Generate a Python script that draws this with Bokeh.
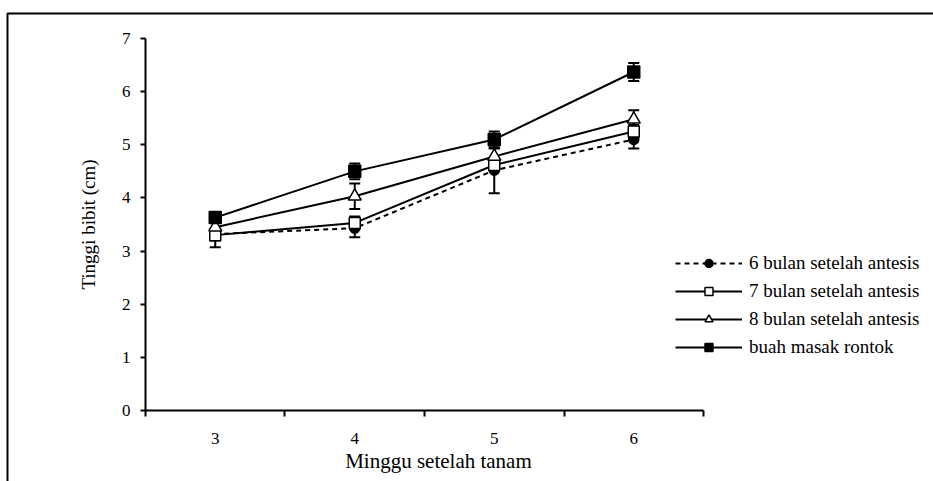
import math
from bokeh.plotting import figure
from bokeh.models import (Range1d, FixedTicker, ColumnDataSource, Whisker, TeeHead,
                          Legend, LegendItem, Label, PolyAnnotation)
from bokeh.embed import file_html
from bokeh.resources import INLINE

weeks = [3, 4, 5, 6]
week_labels = ["3", "4", "5", "6"]
y_ticks = [0, 1, 2, 3, 4, 5, 6, 7]
x_title = "Minggu setelah tanam"
y_title = "Tinggi bibit (cm)"
series_names = ["6 bulan setelah antesis", "7 bulan setelah antesis",
                "8 bulan setelah antesis", "buah masak rontok"]
h6 = [3.32, 3.43, 4.52, 5.10]
e6 = [0.25, 0.17, 0.43, 0.17]
h7 = [3.30, 3.53, 4.62, 5.25]
e7 = [0.10, 0.12, 0.12, 0.12]
h8 = [3.45, 4.03, 4.78, 5.48]
e8 = [0.10, 0.24, 0.15, 0.17]
hb = [3.63, 4.50, 5.10, 6.37]
eb = [0.08, 0.15, 0.15, 0.17]

FONT = "Liberation Serif"

# canvas 933x481; x: 139.5 px/unit with 2.5 at px 145; y: 53.143 px/unit with 0 at px 410
p = figure(width=933, height=481, x_range=Range1d(1.4606, 8.1487), y_range=Range1d(-1.336, 7.715),
           output_backend="svg", toolbar_location=None, min_border=0)
p.outline_line_color = None
p.xgrid.visible = False
p.ygrid.visible = False
p.background_fill_color = "white"
p.border_fill_color = "white"

xa = p.xaxis[0]
xa.fixed_location = 0
xa.ticker = FixedTicker(ticks=weeks, minor_ticks=[2.5, 3.5, 4.5, 5.5, 6.5])
xa.major_label_overrides = {w: l for w, l in zip(weeks, week_labels)}
xa.bounds = (2.5, 6.5)
xa.major_tick_in = 0
xa.major_tick_out = 0
xa.minor_tick_in = 0
xa.minor_tick_out = 6
xa.minor_tick_line_width = 2
xa.minor_tick_line_color = "black"
xa.axis_line_width = 2
xa.axis_line_color = "black"
xa.major_label_standoff = 16
xa.major_label_text_font = FONT
xa.major_label_text_font_size = "17px"
xa.major_label_text_color = "black"

ya = p.yaxis[0]
ya.fixed_location = 2.5
ya.ticker = FixedTicker(ticks=y_ticks, minor_ticks=[])
ya.bounds = (0, 7)
ya.major_tick_in = 0
ya.major_tick_out = 5
ya.major_tick_line_width = 2
ya.major_tick_line_color = "black"
ya.axis_line_width = 2
ya.axis_line_color = "black"
ya.major_label_standoff = 10
ya.major_label_text_font = FONT
ya.major_label_text_font_size = "17px"
ya.major_label_text_color = "black"

p.add_layout(Label(x=4.6, y=-0.941, text=x_title, text_align="center", text_baseline="middle",
                   text_font=FONT, text_font_size="21px", text_color="black"))
p.add_layout(Label(x=2.0914, y=3.5, text=y_title, angle=math.pi / 2, text_align="center",
                   text_baseline="middle", text_font=FONT, text_font_size="19px",
                   text_color="black"))

# outer chart-area border: only its top and left edges fall inside the picture
p.add_layout(PolyAnnotation(xs=[1.5108, 1.5108, 100, 100], ys=[-100, 7.470, 7.470, -100],
                            fill_alpha=0, line_color="black", line_alpha=1.0, line_width=2,
                            level="underlay"))

specs = [
    (h6, e6, "circle", 10, "black", "5 4"),
    (h7, e7, "square", 11, "white", "solid"),
    (h8, e8, "triangle", 13, "white", "solid"),
    (hb, eb, "square", 12, "black", "solid"),
]

items = []
for name, (vals, errs, marker, size, fill, dash) in zip(series_names, specs):
    src = ColumnDataSource(dict(x=weeks, y=vals,
                                upper=[v + e for v, e in zip(vals, errs)],
                                lower=[v - e for v, e in zip(vals, errs)]))
    ln = p.line("x", "y", source=src, line_color="black", line_width=2, line_dash=dash)
    wk = Whisker(source=src, base="x", upper="upper", lower="lower",
                 line_color="black", line_width=2,
                 upper_head=TeeHead(size=11, line_width=2, line_color="black"),
                 lower_head=TeeHead(size=11, line_width=2, line_color="black"))
    p.add_layout(wk)
    sc = p.scatter("x", "y", source=src, marker=marker, size=size,
                   fill_color=fill, line_color="black", line_width=1.5)
    items.append(LegendItem(label=name, renderers=[ln, sc]))

legend = Legend(items=items, location=(675, 123), padding=0, margin=0,
                spacing=6, glyph_width=67, glyph_height=20, label_standoff=7,
                label_text_font=FONT, label_text_font_size="19px", label_text_color="black",
                border_line_color=None, background_fill_alpha=0)
p.add_layout(legend, "center")

open("out.html", "w").write(file_html(p, INLINE))
